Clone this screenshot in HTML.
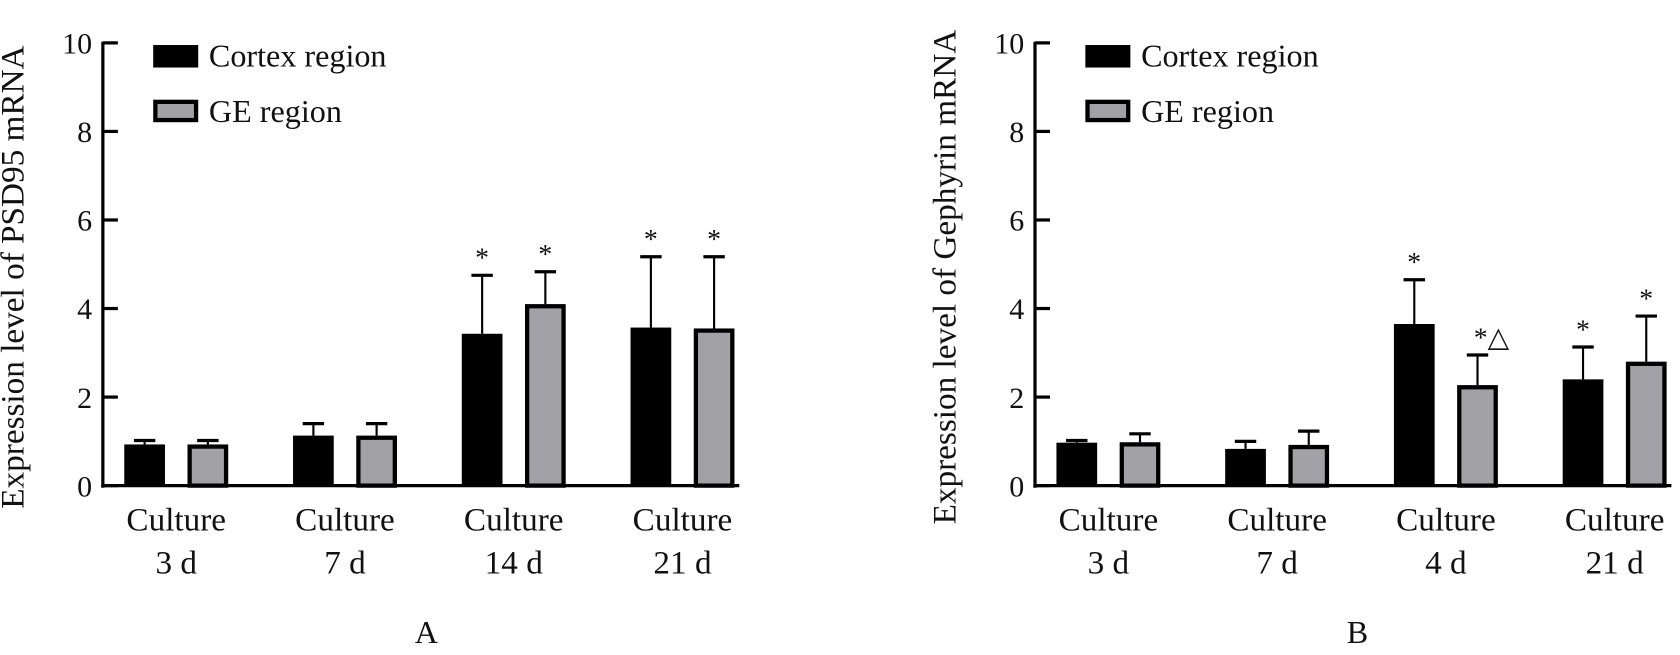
<!DOCTYPE html>
<html><head><meta charset="utf-8"><style>
html,body{margin:0;padding:0;background:#fff;}
svg{display:block;font-family:"Liberation Serif",serif;}
</style></head><body>
<svg id="chart" width="1680" height="655" viewBox="0 0 1568 611" preserveAspectRatio="none" xmlns="http://www.w3.org/2000/svg"></svg>
<script>
const groupsA = ["3 d","7 d","14 d","21 d"];
const cortexA = [0.93,1.13,3.43,3.57];
const cortexErrA = [0.09,0.27,1.32,1.6];
const geA = [0.93,1.13,4.1,3.55];
const geErrA = [0.09,0.27,0.73,1.62];
const cortexMarkA = ["","","*","*"];
const geMarkA = ["","","*","*"];

const groupsB = ["3 d","7 d","4 d","21 d"];
const cortexB = [0.97,0.83,3.65,2.4];
const cortexErrB = [0.05,0.17,1.0,0.73];
const geB = [0.98,0.92,2.27,2.8];
const geErrB = [0.19,0.31,0.68,1.03];
const cortexMarkB = ["","","*","*"];
const geMarkB = ["","","*△","*"];
const yTicks = [0,2,4,6,8,10];

const NS="http://www.w3.org/2000/svg";
const svg=document.getElementById('chart');
function mk(tag,attrs,parent){const e=document.createElementNS(NS,tag);for(const k in attrs)e.setAttribute(k,attrs[k]);(parent||svg).appendChild(e);return e;}

function panel(cfg){
  const g=mk('g',{});
  
  
  const x0=cfg.x0, xEnd=cfg.xEnd, yTop=40, yBot=453;
  const y=v=>yBot-(v/10)*(yBot-yTop);
  const ya=mk('line',{x1:x0,y1:yTop-1,x2:x0,y2:yBot+2,stroke:'#000','stroke-width':3},g);
  
  
  const xa=mk('line',{x1:x0-1.5,y1:yBot,x2:xEnd,y2:yBot,stroke:'#000','stroke-width':3},g);
  
  
  yTicks.forEach(t=>{
    const tk=mk('line',{x1:x0,y1:y(t),x2:x0+14,y2:y(t),stroke:'#000','stroke-width':3},g);
    
    
    const tl=mk('text',{x:x0-10,y:y(t)+10,'text-anchor':'end','font-size':28,fill:'#111'},g);
    tl.textContent=t;
    
    
  });
  const yl=mk('text',{transform:`translate(${x0-74},${(yTop+yBot)/2+12}) rotate(-90)`,'text-anchor':'middle','font-size':31,fill:'#111'},g);
  yl.textContent=cfg.ylabel;
  
  
  const l1=mk('rect',{x:x0+47,y:42,width:42,height:21,fill:'#000'},g);
  
  
  const t1=mk('text',{x:x0+99,y:62,'font-size':30,fill:'#111'},g);t1.textContent='Cortex region';
  
  
  const l2=mk('rect',{x:x0+49,y:95,width:38,height:17,fill:'#a2a2a6',stroke:'#000','stroke-width':4},g);
  
  
  const t2=mk('text',{x:x0+99,y:114,'font-size':30,fill:'#111'},g);t2.textContent='GE region';
  
  
  const gw=157.5, bw=38;
  cfg.groups.forEach((lab,i)=>{
    const cx=x0+20+i*gw;
    const gx=cx+59;
    [[cx,cfg.c[i],cfg.ce[i],cfg.cm[i]],[gx,cfg.g[i],cfg.ge[i],cfg.gm[i]]].forEach(([bx,v,e,m],j)=>{
      const mid=bx+bw/2, top=y(v+e);
      const el=mk('line',{x1:mid,y1:y(v),x2:mid,y2:top,stroke:'#000','stroke-width':2},g);
      
      
      const ec=mk('line',{x1:mid-10,y1:top,x2:mid+10,y2:top,stroke:'#000','stroke-width':3},g);
      
      
      let r;
      if(j===0){r=mk('rect',{x:bx,y:y(v),width:bw,height:yBot-y(v),fill:'#000'},g);}
      else{r=mk('rect',{x:bx+2,y:y(v)+2,width:bw-4,height:yBot-y(v)-2,fill:'#a2a2a6',stroke:'#000','stroke-width':4},g);}
      
      if(m){const mt=mk('text',{x:mid+(m.length>1?13:0),y:top-8,'text-anchor':'middle','font-size':26,fill:'#111'},g);mt.textContent=m;
        
        }
    });
    const c=cx+(gx+bw-cx)/2;
    const a=mk('text',{x:c,y:495,'text-anchor':'middle','font-size':31,fill:'#111'},g);a.textContent='Culture';
    
    
    const b=mk('text',{x:c,y:535,'text-anchor':'middle','font-size':31,fill:'#111'},g);b.textContent=lab;
    
    
  });
  const pl=mk('text',{x:cfg.lx,y:600,'text-anchor':'middle','font-size':30,fill:'#111'},g);pl.textContent=cfg.letter;
  
  
}
panel({name:'panel-a',x0:96,xEnd:690,ylabel:'Expression level of PSD95 mRNA',groups:groupsA,c:cortexA,ce:cortexErrA,g:geA,ge:geErrA,cm:cortexMarkA,gm:geMarkA,letter:'A',lx:398});
panel({name:'panel-b',x0:966,xEnd:1560,ylabel:'Expression level of Gephyrin mRNA',groups:groupsB,c:cortexB,ce:cortexErrB,g:geB,ge:geErrB,cm:cortexMarkB,gm:geMarkB,letter:'B',lx:1267});
</script>
</body></html>
